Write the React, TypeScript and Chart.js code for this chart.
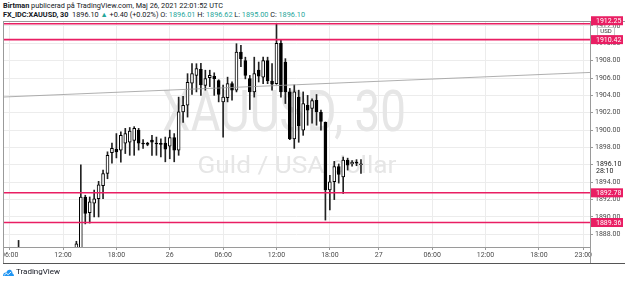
import React, { useEffect, useRef } from "react";
import { Chart, registerables } from "chart.js";

Chart.register(...registerables);

// ---- DATA (30-minute candles, FX_IDC:XAUUSD) ----
const candleOpen = [
  1881.2, 1881.6, 1882.7, 1884.2, 1886.0, 1884.6, 1883.8, 1883.1, 1883.5, 1884.2,
  1885.0, 1884.4, 1883.7, 1884.1, 1884.9, 1885.4, 1884.3, 1886.0, 1892.3, 1890.5,
  1891.6, 1892.1, 1893.6, 1895.0, 1897.4, 1897.8, 1897.7, 1898.5, 1898.6, 1898.8,
  1900.0, 1898.5, 1898.4, 1898.85, 1898.5, 1898.4, 1898.5, 1898.15, 1899.15, 1897.7,
  1902.1, 1902.86, 1905.4, 1906.3, 1907.0, 1905.16, 1906.05, 1906.2, 1905.7, 1903.25,
  1903.75, 1905.35, 1904.6, 1909.0, 1908.0, 1905.93, 1904.4, 1906.9, 1906.1, 1908.0,
  1905.65, 1905.35, 1910.0, 1907.84, 1904.4, 1899.0, 1903.8, 1900.0, 1902.86, 1902.5,
  1903.44, 1902.05, 1900.9, 1893.1, 1894.05, 1895.8, 1894.6, 1896.54, 1896.12, 1896.3,
  1896.01,
];
const candleHigh = [
  1882.0, 1883.0, 1884.6, 1887.3, 1886.4, 1885.3, 1884.5, 1884.0, 1884.8, 1885.6,
  1885.9, 1885.1, 1884.6, 1885.5, 1886.2, 1886.3, 1887.2, 1896.0, 1892.5, 1892.3,
  1893.1, 1894.1, 1895.4, 1897.5, 1898.5, 1899.6, 1899.8, 1900.2, 1900.3, 1900.4,
  1900.2, 1898.9, 1898.6, 1899.4, 1899.2, 1899.0, 1899.2, 1900.0, 1899.6, 1903.8,
  1903.9, 1906.5, 1907.65, 1907.65, 1907.7, 1906.9, 1906.9, 1906.6, 1905.8, 1905.2,
  1906.1, 1905.55, 1909.95, 1909.76, 1908.4, 1906.3, 1908.4, 1907.84, 1908.4, 1908.4,
  1907.65, 1912.25, 1910.33, 1908.23, 1904.8, 1905.2, 1904.6, 1904.4, 1904.0, 1903.6,
  1904.1, 1902.3, 1900.94, 1894.8, 1896.4, 1896.1, 1896.9, 1896.77, 1896.5, 1896.6,
  1896.62,
];
const candleLow = [
  1880.6, 1881.2, 1882.4, 1883.9, 1884.1, 1883.2, 1882.6, 1882.0, 1883.0, 1883.7,
  1883.9, 1883.2, 1882.9, 1883.6, 1884.0, 1883.8, 1883.9, 1883.5, 1889.2, 1889.3,
  1890.0, 1890.0, 1892.1, 1894.4, 1896.2, 1896.8, 1896.3, 1897.3, 1897.1, 1897.1,
  1897.7, 1897.9, 1898.2, 1897.1, 1897.1, 1896.9, 1896.35, 1896.7, 1896.35, 1897.1,
  1900.9, 1901.5, 1904.1, 1904.4, 1904.0, 1904.6, 1905.0, 1904.0, 1903.25, 1899.2,
  1903.25, 1903.45, 1904.4, 1907.3, 1905.9, 1902.37, 1903.8, 1905.54, 1905.35, 1905.35,
  1904.6, 1905.28, 1903.8, 1903.06, 1898.9, 1897.9, 1898.6, 1899.4, 1900.56, 1900.8,
  1900.56, 1900.0, 1889.64, 1890.8, 1892.0, 1893.9, 1892.7, 1895.4, 1895.85, 1895.9,
  1895.0,
];
const candleClose = [
  1881.6, 1882.7, 1884.2, 1886.0, 1884.6, 1883.8, 1883.1, 1883.5, 1884.2, 1885.0,
  1884.4, 1883.7, 1884.1, 1884.9, 1885.4, 1884.3, 1886.9, 1892.3, 1890.4, 1891.75,
  1892.1, 1893.7, 1895.0, 1897.1, 1897.9, 1897.5, 1899.4, 1899.6, 1899.9, 1900.2,
  1898.5, 1898.4, 1898.35, 1898.6, 1898.4, 1898.35, 1897.8, 1899.15, 1897.7, 1902.1,
  1902.86, 1905.5, 1906.5, 1907.1, 1905.2, 1905.93, 1906.3, 1905.93, 1904.1, 1903.8,
  1905.35, 1904.6, 1909.0, 1908.23, 1906.3, 1904.4, 1906.5, 1906.2, 1908.0, 1905.7,
  1905.28, 1910.0, 1904.4, 1904.4, 1899.0, 1904.4, 1900.5, 1903.06, 1902.3, 1903.4,
  1902.1, 1901.0, 1893.1, 1894.05, 1895.8, 1894.9, 1896.54, 1895.97, 1896.28, 1896.2,
  1896.1,
];
const firstCandleSlot = "25 05:30";

// time slots (30 min), session break slot skipped
const slotDays = [25, 26, 27];
const skippedSlots = ["26 22:00"];

// x-axis tick labels
const tickTimes = ["25 06:00", "25 12:00", "25 18:00", "26 00:00", "26 06:00", "26 12:00", "26 18:00", "27 00:00", "27 06:00", "27 12:00", "27 18:00", "27 23:00"];
const tickLabels = ["06:00", "12:00", "18:00", "26", "06:00", "12:00", "18:00", "27", "06:00", "12:00", "18:00", "23:00"];

// y-axis
const yMin = 1886.54;
const yMax = 1912.45;
const yTickValues = [1888, 1890, 1892, 1894, 1896, 1898, 1900, 1902, 1904, 1906, 1908, 1910, 1912];

// horizontal levels & trend line
const levelPrices = [1912.25, 1910.42, 1892.78, 1889.36];
const levelLabels = ["1912.25", "1910.42", "1892.78", "1889.36"];
const trendSlots = ["25 05:30", "27 23:30"];
const trendPrices = [1903.82, 1906.63];
const lastPrice = 1896.1;
const lastPriceLabel = "1896.10";
const countdownLabel = "28:10";

const pad2 = (n: number) => (n < 10 ? "0" + n : "" + n);
function buildSlots(): string[] {
  const out: string[] = [];
  for (const d of slotDays) {
    for (let h = 0; h < 24; h++) {
      for (const m of [0, 30]) {
        const key = `${d} ${pad2(h)}:${pad2(m)}`;
        if (d === slotDays[0] && h * 60 + m < 330) continue;
        if (skippedSlots.includes(key)) continue;
        out.push(key);
      }
    }
  }
  return out;
}

const LEVEL_COLOR = "#e91e63";
const FONT = "Roboto, 'Liberation Sans', sans-serif";

export default function App() {
  const ref = useRef<HTMLCanvasElement | null>(null);

  useEffect(() => {
    document.body.style.margin = "0";
    const slots = buildSlots();
    const start = slots.indexOf(firstCandleSlot);
    const n = candleOpen.length;
    const bodies = slots.map((_, i) => {
      const j = i - start;
      return j >= 0 && j < n ? [candleOpen[j], candleClose[j]] : null;
    });
    const wicks = slots.map((_, i) => {
      const j = i - start;
      return j >= 0 && j < n ? [candleLow[j], candleHigh[j]] : null;
    });
    const bodyColors = slots.map((_, i) => {
      const j = i - start;
      if (j < 0 || j >= n) return "#fff";
      return candleClose[j] >= candleOpen[j] ? "#ffffff" : "#000000";
    });
    const tickIndex = new Map<number, string>();
    tickTimes.forEach((t, k) => {
      const idx = slots.indexOf(t);
      if (idx >= 0) tickIndex.set(idx, tickLabels[k]);
    });

    const overlay = {
      id: "overlay",
      beforeDatasetsDraw(chart: any) {
        const { ctx, chartArea } = chart;
        ctx.save();
        ctx.beginPath();
        ctx.rect(chartArea.left, chartArea.top, chartArea.right - chartArea.left, chartArea.bottom - chartArea.top);
        ctx.clip();
        ctx.fillStyle = "#e6e6e6";
        ctx.textAlign = "center";
        ctx.textBaseline = "alphabetic";
        // big watermark
        ctx.font = `58px ${FONT}`;
        const t1 = "XAUUSD, 30";
        const w1 = ctx.measureText(t1).width;
        ctx.save();
        ctx.translate(281, 131);
        ctx.scale(244 / w1, 1);
        ctx.fillText(t1, 0, 0);
        ctx.restore();
        ctx.font = `23px ${FONT}`;
        const t2 = "Guld / USA dollar";
        const w2 = ctx.measureText(t2).width;
        ctx.save();
        ctx.translate(294, 173);
        ctx.scale(199 / w2, 1);
        ctx.fillText(t2, 0, 0);
        ctx.restore();
        ctx.restore();
      },
      afterDatasetsDraw(chart: any) {
        const { ctx, chartArea, scales } = chart;
        const xs = scales.x;
        const ys = scales.y;
        ctx.save();
        ctx.beginPath();
        ctx.rect(chartArea.left, chartArea.top - 2, chartArea.right - chartArea.left, chartArea.bottom - chartArea.top + 2);
        ctx.clip();
        // trend line
        const i0 = slots.indexOf(trendSlots[0]);
        const i1 = slots.indexOf(trendSlots[1]);
        const xa = xs.getPixelForValue(i0);
        const xb = xs.getPixelForValue(i1);
        const ya = ys.getPixelForValue(trendPrices[0]);
        const yb = ys.getPixelForValue(trendPrices[1]);
        const slope = (yb - ya) / (xb - xa);
        ctx.strokeStyle = "#9a9a9a";
        ctx.lineWidth = 0.8;
        ctx.beginPath();
        ctx.moveTo(chartArea.left, ya + slope * (chartArea.left - xa));
        ctx.lineTo(chartArea.right, ya + slope * (chartArea.right - xa));
        ctx.stroke();
        // levels
        ctx.strokeStyle = LEVEL_COLOR;
        ctx.lineWidth = 1.6;
        levelPrices.forEach((p) => {
          const y = ys.getPixelForValue(p);
          ctx.beginPath();
          ctx.moveTo(chartArea.left, y);
          ctx.lineTo(chartArea.right, y);
          ctx.stroke();
        });
        ctx.restore();
      },
      afterDraw(chart: any) {
        const { ctx, chartArea, scales, width } = chart;
        const ys = scales.y;
        ctx.save();
        // frame
        ctx.strokeStyle = "#9a9a9a";
        ctx.lineWidth = 1;
        ctx.beginPath();
        ctx.moveTo(0, chartArea.top - 0.5);
        ctx.lineTo(width, chartArea.top - 0.5);
        ctx.moveTo(0.5, chartArea.top);
        ctx.lineTo(0.5, 263);
        ctx.moveTo(chartArea.right + 0.5, chartArea.bottom);
        ctx.lineTo(chartArea.right + 0.5, 263);
        ctx.stroke();
        ctx.strokeStyle = "#555555";
        ctx.beginPath();
        ctx.moveTo(0, 263.5);
        ctx.lineTo(width, 263.5);
        ctx.stroke();

        const axL = chartArea.right + 1;
        const axW = 32;
        // USD box
        ctx.fillStyle = "#ffffff";
        ctx.fillRect(axL + 6, 27, 18, 9);
        ctx.strokeStyle = "#c8c8c8";
        ctx.strokeRect(axL + 6.5, 27.5, 17, 8);
        ctx.fillStyle = "#333";
        ctx.font = `6px ${FONT}`;
        ctx.textAlign = "center";
        ctx.textBaseline = "middle";
        ctx.fillText("USD", axL + 15, 31.8);

        // last price label
        const yl = ys.getPixelForValue(lastPrice);
        ctx.fillStyle = "#ffffff";
        ctx.fillRect(axL + 3, yl - 5, axW - 3, 16);
        ctx.fillStyle = "#222";
        ctx.font = `7px ${FONT}`;
        ctx.textAlign = "left";
        ctx.fillText(lastPriceLabel, axL + 5, yl + 0.5);
        ctx.fillText(countdownLabel, axL + 5, yl + 7.5);

        // level labels
        levelPrices.forEach((p, k) => {
          let y = ys.getPixelForValue(p);
          if (k === 0) y -= 3;
          ctx.fillStyle = LEVEL_COLOR;
          ctx.fillRect(axL, y - 4.5, axW, 9);
          ctx.fillStyle = "#ffffff";
          ctx.font = `7px ${FONT}`;
          ctx.textAlign = "left";
          ctx.fillText(levelLabels[k], axL + 5, y + 0.5);
        });
        ctx.restore();
      },
    };

    const chart = new Chart(ref.current as HTMLCanvasElement, {
      type: "bar",
      data: {
        labels: slots,
        datasets: [
          {
            label: "body",
            data: bodies as any,
            backgroundColor: bodyColors,
            borderColor: "#000000",
            borderWidth: 1,
            borderSkipped: false,
            barThickness: 3,
            minBarLength: 1,
            grouped: false,
          } as any,
          {
            label: "wick",
            data: wicks as any,
            backgroundColor: "#222222",
            borderWidth: 0,
            barThickness: 1,
            grouped: false,
          } as any,
        ],
      },
      plugins: [overlay],
      options: {
        animation: false,
        responsive: false,
        devicePixelRatio: 1,
        layout: { padding: { left: 0, top: 22, right: 0, bottom: 20 } },
        plugins: { legend: { display: false }, tooltip: { enabled: false } },
        scales: {
          x: {
            type: "category",
            offset: true,
            afterFit: (s: any) => {
              s.height = 16;
            },
            ticks: {
              autoSkip: false,
              maxRotation: 0,
              minRotation: 0,
              padding: 1,
              color: "#4a4a4a",
              font: { size: 7, family: FONT },
              callback: (_v: any, i: number) => tickIndex.get(i) || "",
            },
            grid: {
              offset: false,
              color: (c: any) => (tickIndex.has(c.index) ? "#ececec" : "rgba(0,0,0,0)"),
              tickColor: (c: any) => (tickIndex.has(c.index) ? "#9a9a9a" : "rgba(0,0,0,0)"),
              tickLength: 3,
            },
            border: { color: "#9a9a9a" },
          },
          y: {
            type: "linear",
            position: "right",
            min: yMin,
            max: yMax,
            afterBuildTicks: (s: any) => {
              s.ticks = yTickValues.map((v) => ({ value: v }));
            },
            afterFit: (s: any) => {
              s.width = 35;
            },
            ticks: {
              padding: 2,
              color: "#4a4a4a",
              font: { size: 7, family: FONT },
              callback: (v: any) => Number(v).toFixed(2),
            },
            grid: { color: "#ececec", tickColor: "#9a9a9a", tickLength: 3 },
            border: { color: "#9a9a9a" },
          },
        },
      } as any,
    });
    return () => chart.destroy();
  }, []);

  const teal = "#26a69a";
  return (
    <div style={{ position: "fixed", left: 0, top: 0, width: 625, height: 283, background: "#fff", overflow: "hidden" }}>
      <div style={{ position: "absolute", left: 3, top: 1, fontFamily: FONT, fontSize: 7.3, color: "#131722", whiteSpace: "nowrap", lineHeight: "9px" }}>
        <b>Birtman</b> publicerad på TradingView.com, Maj 26, 2021 22:01:52 UTC
      </div>
      <div style={{ position: "absolute", left: 3, top: 10, fontFamily: FONT, fontSize: 7.3, color: "#131722", whiteSpace: "nowrap", lineHeight: "9px" }}>
        <b>FX_IDC:XAUUSD, 30</b>&nbsp; 1896.10 <span style={{ color: teal }}>▲</span> +0.40 (+0.02%) O: <span style={{ color: teal }}>1896.01</span> H: <span style={{ color: teal }}>1896.62</span> L: <span style={{ color: teal }}>1895.00</span> C: <span style={{ color: teal }}>1896.10</span>
      </div>
      <canvas ref={ref} width={622} height={283} style={{ position: "absolute", left: 3, top: 0, width: 622, height: 283 }} />
      <div style={{ position: "absolute", left: 3, top: 267, display: "flex", alignItems: "center", fontFamily: FONT, fontSize: 8, color: "#131722", whiteSpace: "nowrap" }}>
        <svg width="11" height="8" viewBox="0 0 11 8" style={{ marginRight: 2 }}>
          <path d="M0 8 C0 5.5 1.8 4.3 3.3 4.7 C3.8 2.2 6 1 7.7 2 C9.2 2.8 9.6 4.2 9.3 5.2 C10.4 5.6 11 6.8 11 8 Z" fill="#2196f3" />
          <path d="M1.2 7.2 L3.2 5.3 L5.2 6.6 L8.3 3.8" stroke="#ffffff" fill="none" strokeWidth="0.9" />
        </svg>
        <span>TradingView</span>
      </div>
    </div>
  );
}
